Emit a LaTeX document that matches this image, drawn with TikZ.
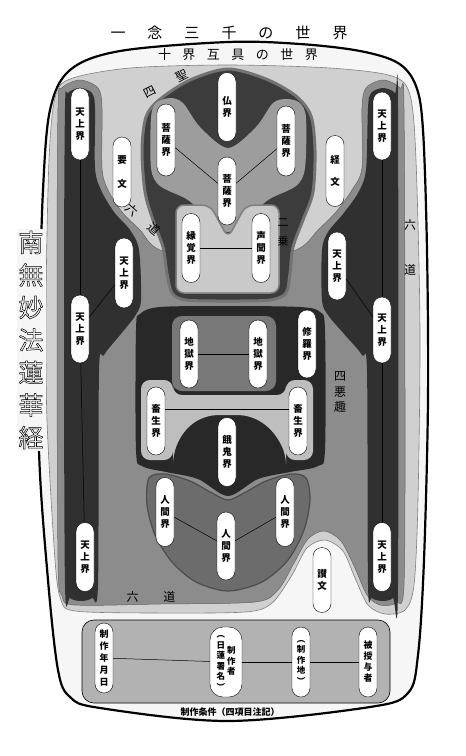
\documentclass[tikz,border=0pt]{standalone}
\usepackage{fontspec}
\setmainfont{Noto Sans CJK JP}
\usetikzlibrary{arrows.meta}

\definecolor{paper}{HTML}{F6F6F6}
\definecolor{lightzone}{HTML}{D0D0D0}
\definecolor{midzone}{HTML}{8C8C8C}
\definecolor{darkzone}{HTML}{303030}
\definecolor{saintzone}{HTML}{3C3C3C}
\definecolor{bosatsuzone}{HTML}{9D9D9D}
\definecolor{nijozone}{HTML}{C9C9C9}
\definecolor{akuzone}{HTML}{282828}
\definecolor{jigokuzone}{HTML}{787878}
\definecolor{chikuzone}{HTML}{BEBEBE}
\definecolor{ningenzone}{HTML}{6C6C6C}
\definecolor{condzone}{HTML}{B2B2B2}

\begin{document}
\begin{tikzpicture}[
  x=1pt, y=-1pt,
  line join=round,
  pill/.style ={draw=black, line width=0.4pt, fill=white, rounded corners=9pt,
                minimum width=18pt, minimum height=#1, inner sep=0pt, align=center,
                font=\fontsize{9.5}{12}\selectfont\bfseries},
  link/.style ={draw=black, line width=0.5pt},
  lbl/.style  ={inner sep=0pt, font=\fontsize{12}{14}\selectfont},
]
\useasboundingbox (0,0) rectangle (466,756);

% --- frame and the ten-world zone ---
\draw[line width=2.2pt, fill=paper] plot[smooth cycle, tension=0.55] coordinates {
  (228,42) (300,44) (360,51) (398,63) (416,86) (423,130) (427,250) (428,400)
  (424,560) (418,655) (408,693) (370,707) (228,721) (100,708) (70,697)
  (58,670) (48,580) (39,450) (40,300) (43,190) (50,110) (70,70) (120,51)};
\draw[gray, line width=0.6pt, fill=lightzone] plot[smooth cycle, tension=0.5] coordinates {
  (228,65) (330,68) (392,76) (410,95) (416,160) (420,330) (418,500) (414,585)
  (405,610) (385,614) (368,605) (355,578) (343,551) (325,540) (307,548)
  (292,575) (272,603) (245,612) (150,613) (75,611) (61,600) (55,560) (47,420)
  (46,300) (49,160) (55,98) (70,79) (130,68)};

% --- six paths ---
\draw[black!60, line width=0.5pt, fill=midzone] plot[smooth cycle, tension=0.5] coordinates {
  (58,108) (62,88) (80,80) (98,88) (102,108) (102,168) (108,190) (122,212)
  (140,230) (160,250) (228,268) (296,250) (318,230) (336,212) (352,190)
  (362,168) (362,108) (366,88) (383,80) (400,88) (404,108) (405,400)
  (404,585) (396,603) (380,605) (367,595) (355,568) (341,541) (324,531)
  (308,539) (294,563) (278,590) (255,602) (160,604) (75,605) (62,596)
  (58,560) (57,300)};
\fill[darkzone] plot[smooth cycle, tension=0.5] coordinates {
  (65,108) (68,93) (80,88) (92,93) (95,108) (95,168) (101,190) (114,212)
  (130,230) (139,250) (141,300) (135,316) (120,335) (104,355) (99,372)
  (98,585) (92,598) (81,601) (70,598) (65,585) (64,300)};
\fill[darkzone] plot[smooth cycle, tension=0.5] coordinates {
  (368,108) (371,93) (383,88) (395,93) (398,108) (398,585) (393,598)
  (383,601) (372,598) (368,585) (367,372) (362,355) (345,335) (328,315)
  (322,300) (322,250) (328,232) (343,214) (358,193) (366,170)};

% --- four saints ---
\draw[line width=3pt, draw=black!55, fill=saintzone] plot[smooth cycle, tension=0.5] coordinates {
  (228,69) (266,79) (296,96) (311,116) (315,150) (313,192) (303,220)
  (293,247) (290,273) (286,293) (270,300) (228,301) (186,300) (172,293)
  (167,273) (163,247) (153,220) (145,192) (142,150) (146,117) (159,100) (190,80)};
\fill[bosatsuzone] plot[smooth cycle, tension=0.5] coordinates {
  (151,118) (156,103) (170,98) (183,103) (200,127) (228,148) (256,127)
  (273,103) (287,99) (300,103) (306,118) (305,168) (296,186) (268,200)
  (247,220) (228,232) (209,220) (188,200) (160,186) (151,168)};
\draw[black!50, line width=1.5pt, fill=nijozone, rounded corners=8pt]
  (176,293) -- (176,205) -- (210,205) -- (228,238) -- (246,205)
  -- (279,205) -- (279,293) -- cycle;

% --- four evil paths ---
\fill[akuzone] plot[smooth cycle, tension=0.5] coordinates {
  (140,314) (160,307) (228,306) (300,307) (320,312) (325,330) (325,450)
  (318,466) (290,472) (258,479) (228,496) (198,479) (166,472) (142,466)
  (136,450) (136,330)};
\fill[jigokuzone, rounded corners=10pt] (172,316) rectangle (276,391);
\fill[chikuzone, rounded corners=9pt]
  (141,380) -- (173,380) -- (173,395) -- (286,395) -- (286,380) -- (313,380)
  -- (313,460) -- (286,460) -- (286,455)
  .. controls (270,421) and (250,415) .. (228,415)
  .. controls (206,415) and (186,421) .. (173,455)
  -- (173,460) -- (141,460) -- cycle;
\draw[black!70, line width=1.2pt, fill=ningenzone] plot[smooth cycle, tension=0.5] coordinates {
  (149,478) (165,474) (190,481) (212,493) (228,500) (244,493) (266,481)
  (291,474) (306,478) (310,500) (304,530) (288,560) (262,582) (228,591)
  (196,582) (172,562) (155,535) (147,505)};

% --- conditions box ---
\draw[line width=0.6pt, fill=condzone, rounded corners=12pt] (82,620) rectangle (390,703);

% --- pills ---
\node[pill=69pt] (butsu)  at (227,107) {仏\\界};
\node[pill=72pt] (bosL)   at (166,140) {菩\\薩\\界};
\node[pill=68pt] (bosC)   at (227,191) {菩\\薩\\界};
\node[pill=70pt] (bosR)   at (286,141) {菩\\薩\\界};
\node[pill=69pt] (engaku) at (191,248) {縁\\覚\\界};
\node[pill=69pt] (shomon) at (261,248) {声\\聞\\界};

\node[pill=72pt] (tenTL) at (80,124)  {天\\上\\界};
\node[pill=70pt] (tenML) at (124,273) {天\\上\\界};
\node[pill=68pt] (tenLL) at (80,329)  {天\\上\\界};
\node[pill=69pt] (tenBL) at (85,557)  {天\\上\\界};
\node[pill=68pt] (tenTR) at (382,126) {天\\上\\界};
\node[pill=68pt] (tenMR) at (337,266) {天\\上\\界};
\node[pill=66pt] (tenLR) at (382,330) {天\\上\\界};
\node[pill=69pt] (tenBR) at (382,557) {天\\上\\界};

\node[pill=70pt] (yomon)  at (122,172) {要\\[12pt]文};
\node[pill=71pt] (kyomon) at (335,171) {経\\[10pt]文};
\node[pill=65pt] (sanmon) at (322,580) {讃\\文};

\node[pill=68pt] (jigL)  at (189,354) {地\\獄\\界};
\node[pill=68pt] (jigR)  at (258,354) {地\\獄\\界};
\node[pill=68pt] (shura) at (307,344) {修\\羅\\界};
\node[pill=68pt] (chiL)  at (156,421) {畜\\生\\界};
\node[pill=68pt] (chiR)  at (298,421) {畜\\生\\界};
\node[pill=69pt] (gaki)  at (227,452) {餓\\鬼\\界};
\node[pill=69pt] (ninL)  at (165,512) {人\\間\\界};
\node[pill=68pt] (ninC)  at (226,546) {人\\間\\界};
\node[pill=69pt] (ninR)  at (285,512) {人\\間\\界};

\node[pill=70pt, font=\fontsize{9}{12}\selectfont\bfseries] (date) at (104,658) {制\\作\\年\\月\\日};
\node[pill=70pt, minimum width=32pt, rounded corners=13pt, font=\fontsize{8.5}{10.5}\selectfont\bfseries] (author) at (226,662)
  {\begin{tabular}{@{}c@{\hspace{2pt}}c@{}}
   \begin{tabular}{@{}c@{}}︵\\日\\蓮\\署\\名\\︶\end{tabular} &
   \begin{tabular}{@{}c@{}}制\\作\\者\end{tabular}
   \end{tabular}};
\node[pill=70pt, font=\fontsize{8.5}{10.5}\selectfont\bfseries] (place) at (301,662) {︵\\制\\作\\地\\︶};
\node[pill=70pt, font=\fontsize{9}{11}\selectfont\bfseries] (donee) at (368,662) {被\\授\\与\\者};

% --- connectors ---
\draw[link] (tenTL) -- (tenLL);
\draw[link] (tenML) -- (tenLL);
\draw[link] (tenLL) -- (tenBL);
\draw[link] (tenTR) -- (tenLR);
\draw[link] (tenMR) -- (tenLR);
\draw[link] (tenLR) -- (tenBR);
\draw[link] (bosL) -- (bosC);
\draw[link] (bosC) -- (bosR);
\draw[link] (engaku) -- (shomon);
\draw[link] (jigL) -- (jigR);
\draw[link] (chiL.53) -- (chiR.127);
\draw[link] (ninL) -- (ninC);
\draw[link] (ninC) -- (ninR);
\draw[link] (date) -- (author);
\draw[link] (author) -- (place);
\draw[link] (place) -- (donee);

% --- labels ---
\node[inner sep=0pt, font=\fontsize{15}{17}\selectfont] (title) at (229,33)
  {一\hspace{22pt}念\hspace{22pt}三\hspace{22pt}千\hspace{22pt}の\hspace{22pt}世\hspace{22pt}界};
\node[inner sep=0pt, font=\fontsize{13}{15}\selectfont] (jikkai) at (238,55)
  {十\hspace{11.5pt}界\hspace{11.5pt}互\hspace{11.5pt}具\hspace{11.5pt}の\hspace{11.5pt}世\hspace{11.5pt}界};
\node[lbl, rotate=27]  (shisho)  at (166,84)  {四\hspace{24pt}聖};
\node[lbl, rotate=-41] (rokudoL) at (143,219) {六\hspace{17pt}道};
\node[lbl, align=center, font=\fontsize{12}{45}\selectfont] (rokudoR) at (410,247) {六\\道};
\node[lbl, align=center, font=\fontsize{12}{15.5}\selectfont] (shiaku) at (340,392) {四\\悪\\趣};
\node[lbl, align=center, font=\fontsize{11}{19}\selectfont, text=black] (nijo) at (283,233) {二\\乗};
\node[lbl] (rokudoB) at (151,597) {六\hspace{25pt}道};
\node[inner sep=0pt, font=\fontsize{9}{11}\selectfont\bfseries] (cond) at (230,712) {制作条件（四項目注記）};
\node[fill=paper, inner sep=2pt, align=center, font=\fontsize{25}{32.5}\selectfont] (daimoku) at (31,340)
  {\special{pdf:literal direct 1 Tr 0.5 w}南\\無\\妙\\法\\蓮\\華\\経\special{pdf:literal direct 0 Tr}};

\end{tikzpicture}
\end{document}
